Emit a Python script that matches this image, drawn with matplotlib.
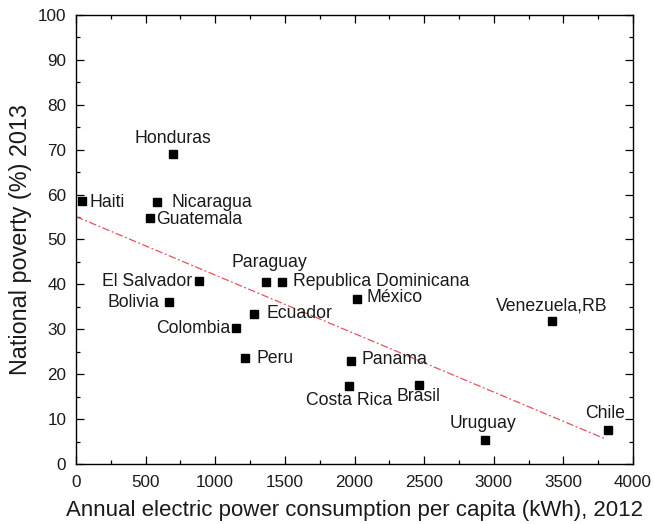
import matplotlib
matplotlib.use('Agg')
import matplotlib.pyplot as plt
from matplotlib.ticker import MultipleLocator

plt.rcParams['font.family'] = ['Liberation Sans', 'DejaVu Sans']

# datos
countries = ['Haiti', 'Honduras', 'Nicaragua', 'Guatemala', 'El Salvador', 'Bolivia',
             'Colombia', 'Ecuador', 'Peru', 'Paraguay', 'Republica Dominicana', 'México',
             'Venezuela,RB', 'Panama', 'Costa Rica', 'Brasil', 'Uruguay', 'Chile']
consumo = [43, 694, 582, 532, 883, 665, 1151, 1281, 1214, 1362, 1482, 2015,
           3421, 1975, 1961, 2466, 2935, 3818]
pobreza = [58.6, 69.0, 58.4, 54.7, 40.8, 36.1, 30.4, 33.3, 23.7, 40.6, 40.6, 36.7,
           31.8, 23.0, 17.4, 17.7, 5.3, 7.5]

# recta de tendencia (extremos)
fit_x = [0, 3800]
fit_y = [55.1, 5.6]

# posicion de las etiquetas (pixeles desde el punto, alineacion)
offsets = [(8, -6, 'left'), (0, 11, 'center'), (14, -5, 'left'), (6, -6, 'left'),
           (-7, -5, 'right'), (-9, -5, 'right'), (-6, -5, 'right'), (12, -4, 'left'),
           (11, -5, 'left'), (4, 15, 'center'), (11, -4, 'left'), (10, -3, 'left'),
           (-1, 11, 'center'), (10, -3, 'left'), (0, -19, 'center'), (-1, -16, 'center'),
           (-2, 12, 'center'), (-3, 12, 'center')]

fig = plt.figure(figsize=(6.54, 5.24), dpi=100)
ax = fig.add_axes([0.1162, 0.1145, 0.8517, 0.8569])

ax.plot(fit_x, fit_y, color='#e8505e', lw=0.9, dashes=(6, 2, 1.5, 2))
ax.plot(consumo, pobreza, 's', color='black', markersize=6.2, linestyle='none')

for c, x, y, (dx, dy, ha) in zip(countries, consumo, pobreza, offsets):
    ax.annotate(c, (x, y), xytext=(dx, dy), textcoords='offset pixels',
                ha=ha, va='baseline', fontsize=12.7, color='#1a1a1a')

ax.set_xlim(0, 4000)
ax.set_ylim(0, 100)
ax.xaxis.set_major_locator(MultipleLocator(500))
ax.xaxis.set_minor_locator(MultipleLocator(250))
ax.yaxis.set_major_locator(MultipleLocator(10))
ax.yaxis.set_minor_locator(MultipleLocator(5))
ax.tick_params(which='both', direction='in', top=True, right=True, labelsize=12.3,
               width=0.9, labelcolor='#1a1a1a')
ax.tick_params(which='major', length=6, pad=7)
ax.tick_params(axis='x', which='major', pad=8)
ax.tick_params(which='minor', length=3)
for s in ax.spines.values():
    s.set_linewidth(1.0)

ax.set_xlabel('Annual electric power consumption per capita (kWh), 2012', fontsize=16,
              labelpad=7, color='#1a1a1a')
ax.set_ylabel('National poverty (%) 2013', fontsize=16.8, labelpad=4, color='#1a1a1a')

fig.savefig('out.png', dpi=100)
